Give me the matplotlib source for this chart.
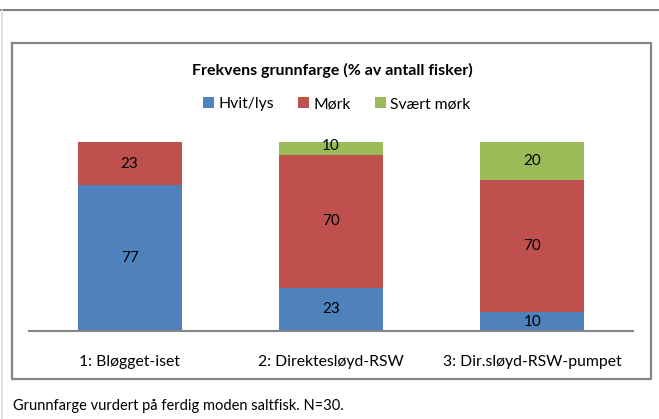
import matplotlib.pyplot as plt
import numpy as np
from matplotlib.lines import Line2D

plt.rcParams['font.family'] = ['Lato', 'DejaVu Sans']

# data
categories = ['1: Bløgget-iset', '2: Direktesløyd-RSW', '3: Dir.sløyd-RSW-pumpet']
series = ['Hvit/lys', 'Mørk', 'Svært mørk']
hvit = [77, 23, 10]
mork = [23, 70, 70]
svaert = [0, 10, 20]
colors = ['#4F81BD', '#C0504D', '#9BBB59']

W, H = 659, 419
fig = plt.figure(figsize=(W / 100, H / 100), dpi=100)

# outer frame lines
fig.add_artist(Line2D([0, 1], [1 - 10 / H, 1 - 10 / H], color='#808080', lw=1.5))
fig.add_artist(Line2D([1.5 / W, 1.5 / W], [0, 1 - 10 / H], color='#d9d9d9', lw=1.2))
# chart box (drawn as lines)
bx = [12 / W, 651 / W, 651 / W, 12 / W, 12 / W]
by = [1 - 43 / H, 1 - 43 / H, 1 - 379 / H, 1 - 379 / H, 1 - 43 / H]
fig.add_artist(Line2D(bx, by, color='#858585', lw=1.6, zorder=10))

ax = fig.add_axes([29 / W, 1 - 331 / H, (633 - 29) / W, (331 - 142) / H])
x = np.arange(len(categories))
bw = 0.515
bottoms = np.zeros(len(categories))
for name, vals, c in zip(series, [hvit, mork, svaert], colors):
    vals = np.array(vals, dtype=float)
    ax.bar(x, vals, bw, bottom=bottoms, color=c, label=name, edgecolor='none')
    for xi, b, v in zip(x, bottoms, vals):
        if v > 0:
            ax.text(xi, b + v / 2, f'{v:.0f}', ha='center', va='center', fontsize=11, color='black')
    bottoms += vals

ax.set_xlim(-0.5, 2.5)
ax.set_ylim(0, 100)
ax.set_yticks([])
ax.set_xticks(x)
ax.set_xticklabels(categories, fontsize=11.3)
ax.tick_params(axis='x', length=0, pad=17)
for s in ['top', 'right', 'left']:
    ax.spines[s].set_visible(False)
ax.spines['bottom'].set_color('#868686')
ax.spines['bottom'].set_linewidth(1.5)

fig.text(332 / W, 1 - 70 / H, 'Frekvens grunnfarge (% av antall fisker)', ha='center', va='center',
         fontsize=11.5, fontweight='bold')
fig.legend(loc='center', bbox_to_anchor=(337 / W, 1 - 104 / H), ncol=3, frameon=False,
           fontsize=11.3, handlelength=0.7, handleheight=0.7, handletextpad=0.3, columnspacing=1.5)

fig.text(13 / W, 1 - 406 / H, 'Grunnfarge vurdert på ferdig moden saltfisk. N=30.', ha='left', va='center',
         fontsize=10.5)

fig.savefig('out.png', dpi=100)
